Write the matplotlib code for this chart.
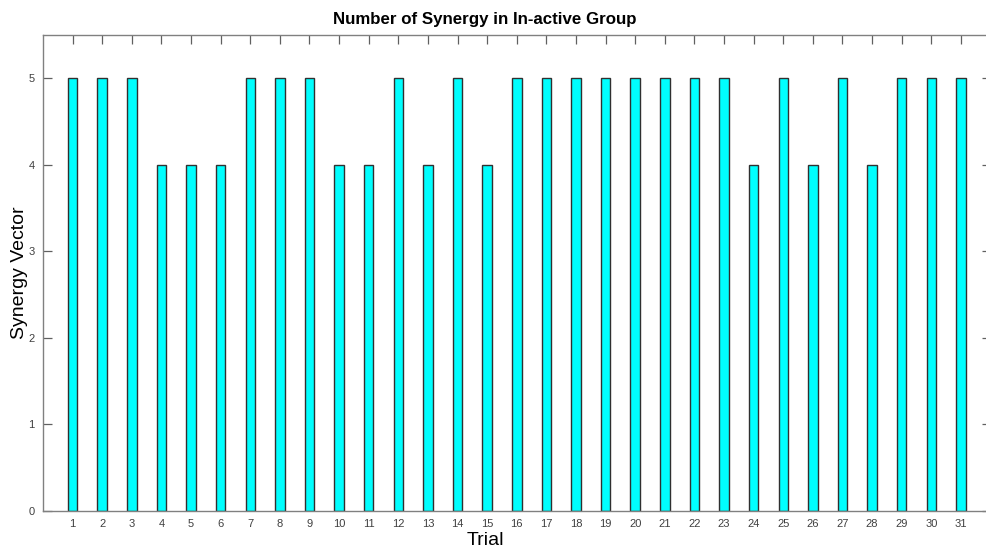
import matplotlib
matplotlib.use('Agg')
import matplotlib.pyplot as plt
import numpy as np

trials = list(range(1, 32))
synergy = [5, 5, 5, 4, 4, 4, 5, 5, 5, 4, 4, 5, 4, 5, 4, 5,
           5, 5, 5, 5, 5, 5, 5, 4, 5, 4, 5, 4, 5, 5, 5]

plt.rcParams['font.family'] = ['Liberation Sans', 'DejaVu Sans']

fig = plt.figure(figsize=(9.86, 5.49), dpi=100)
# axes run a little past the right edge, like the cropped original
ax = fig.add_axes([0.0436, 0.0692, 0.961, 0.867])
ax.set_axisbelow(True)

ax.bar(trials, synergy, width=0.32, color='#00ffff', edgecolor='#303030', linewidth=1.0)

ax.set_xlim(0, 32)
ax.set_ylim(0, 5.5)
ax.set_xticks(trials)
ax.set_yticks([0, 1, 2, 3, 4, 5])

for s in ax.spines.values():
    s.set_color('#808080')
    s.set_linewidth(1.0)
ax.tick_params(direction='in', length=6.5, width=0.9, color='#606060',
               labelsize=8, labelcolor='#404040', top=True, right=True, pad=6)

# title and x label are centred at x ~ 485 px in the original
xc = (485 / 986 - 0.0436) / 0.961
ax.set_title('Number of Synergy in In-active Group', fontsize=12.2, fontweight='bold',
             pad=8, x=xc)
ax.set_xlabel('Trial', fontsize=14, labelpad=1)
ax.xaxis.set_label_coords(xc, -0.045)
ax.xaxis.label.set_va('top')
ax.set_ylabel('Synergy Vector', fontsize=14, labelpad=0)

fig.savefig('out.png', dpi=100)
